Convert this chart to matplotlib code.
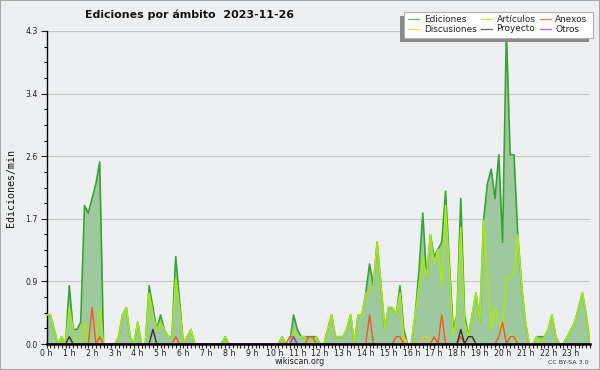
import numpy as np
import matplotlib
matplotlib.use('Agg')
import matplotlib.pyplot as plt
from matplotlib.patches import Rectangle
from matplotlib.lines import Line2D

# ---------------- data (edits per minute, 10-minute slots, 0h..23h50) ----------------
hour_labels = [f"{h} h" for h in range(24)]

ediciones = [
    0.4, 0.4, 0.2, 0.0, 0.1, 0.0,   0.8, 0.2, 0.2, 0.3, 1.9, 1.8,   # 0h, 1h
    2.0, 2.2, 2.5, 0.0, 0.0, 0.0,   0.0, 0.1, 0.4, 0.5, 0.1, 0.0,   # 2h, 3h
    0.3, 0.0, 0.0, 0.8, 0.5, 0.2,   0.4, 0.2, 0.1, 0.1, 1.2, 0.6,   # 4h, 5h
    0.0, 0.1, 0.2, 0.0, 0.0, 0.0,   0.0, 0.0, 0.0, 0.0, 0.0, 0.1,   # 6h, 7h
    0.0, 0.0, 0.0, 0.0, 0.0, 0.0,   0.0, 0.0, 0.0, 0.0, 0.0, 0.0,   # 8h, 9h
    0.0, 0.0, 0.1, 0.0, 0.0, 0.4,   0.2, 0.1, 0.1, 0.1, 0.1, 0.1,   # 10h, 11h
    0.0, 0.0, 0.2, 0.4, 0.1, 0.1,   0.1, 0.2, 0.4, 0.0, 0.4, 0.4,   # 12h, 13h
    0.7, 1.1, 0.8, 1.4, 0.8, 0.2,   0.5, 0.5, 0.4, 0.8, 0.2, 0.0,   # 14h, 15h
    0.0, 0.4, 1.0, 1.8, 0.9, 1.5,   1.2, 1.3, 1.4, 2.1, 1.1, 0.2,   # 16h, 17h
    0.4, 2.0, 0.4, 0.1, 0.4, 0.7,   0.3, 1.7, 2.2, 2.4, 2.0, 2.6,   # 18h, 19h
    1.4, 4.3, 2.6, 2.6, 1.5, 0.8,   0.3, 0.0, 0.0, 0.1, 0.1, 0.1,   # 20h, 21h
    0.2, 0.4, 0.1, 0.0, 0.0, 0.1,   0.2, 0.3, 0.5, 0.7, 0.4, 0.0,   # 22h, 23h
]

articulos = [
    0.4, 0.4, 0.2, 0.0, 0.1, 0.0,   0.5, 0.2, 0.0, 0.0, 0.3, 0.0,
    0.0, 0.0, 0.5, 0.0, 0.0, 0.0,   0.0, 0.1, 0.4, 0.5, 0.1, 0.0,
    0.3, 0.0, 0.0, 0.7, 0.4, 0.2,   0.3, 0.2, 0.1, 0.1, 0.9, 0.5,
    0.0, 0.1, 0.2, 0.0, 0.0, 0.0,   0.0, 0.0, 0.0, 0.0, 0.0, 0.1,
    0.0, 0.0, 0.0, 0.0, 0.0, 0.0,   0.0, 0.0, 0.0, 0.0, 0.0, 0.0,
    0.0, 0.0, 0.1, 0.0, 0.0, 0.2,   0.1, 0.1, 0.1, 0.0, 0.0, 0.1,
    0.0, 0.0, 0.2, 0.4, 0.1, 0.1,   0.1, 0.2, 0.4, 0.0, 0.4, 0.4,
    0.7, 0.7, 0.8, 1.4, 0.8, 0.2,   0.5, 0.5, 0.4, 0.7, 0.1, 0.0,
    0.0, 0.4, 0.8, 1.2, 0.9, 1.5,   1.1, 1.3, 0.8, 1.9, 1.0, 0.1,
    0.4, 1.6, 0.3, 0.1, 0.4, 0.7,   0.3, 1.7, 1.0, 0.2, 0.5, 0.3,
    0.2, 0.9, 0.9, 1.0, 1.5, 0.8,   0.3, 0.0, 0.0, 0.1, 0.0, 0.1,
    0.2, 0.4, 0.1, 0.0, 0.0, 0.1,   0.2, 0.3, 0.5, 0.7, 0.4, 0.0,
]

anexos = [
    0.0, 0.0, 0.0, 0.0, 0.0, 0.0,   0.0, 0.0, 0.0, 0.0, 0.0, 0.0,
    0.5, 0.0, 0.1, 0.0, 0.0, 0.0,   0.0, 0.0, 0.0, 0.0, 0.0, 0.0,
    0.0, 0.0, 0.0, 0.0, 0.0, 0.0,   0.0, 0.0, 0.0, 0.0, 0.1, 0.0,
    0.0, 0.0, 0.0, 0.0, 0.0, 0.0,   0.0, 0.0, 0.0, 0.0, 0.0, 0.0,
    0.0, 0.0, 0.0, 0.0, 0.0, 0.0,   0.0, 0.0, 0.0, 0.0, 0.0, 0.0,
    0.0, 0.0, 0.0, 0.0, 0.1, 0.1,   0.0, 0.0, 0.0, 0.1, 0.1, 0.0,
    0.0, 0.0, 0.0, 0.0, 0.0, 0.0,   0.0, 0.0, 0.0, 0.0, 0.0, 0.0,
    0.0, 0.4, 0.0, 0.0, 0.0, 0.0,   0.0, 0.0, 0.1, 0.1, 0.0, 0.0,
    0.0, 0.0, 0.0, 0.0, 0.0, 0.0,   0.1, 0.0, 0.4, 0.0, 0.0, 0.0,
    0.0, 0.1, 0.0, 0.0, 0.0, 0.0,   0.0, 0.0, 0.0, 0.0, 0.0, 0.1,
    0.3, 0.0, 0.1, 0.1, 0.0, 0.0,   0.0, 0.0, 0.0, 0.0, 0.0, 0.0,
    0.0, 0.0, 0.0, 0.0, 0.0, 0.0,   0.0, 0.0, 0.0, 0.0, 0.0, 0.0,
]

discusiones = [
    0.0, 0.0, 0.0, 0.0, 0.0, 0.0,   0.0, 0.0, 0.0, 0.0, 0.0, 0.0,
    0.0, 0.0, 0.0, 0.0, 0.0, 0.0,   0.0, 0.0, 0.0, 0.0, 0.0, 0.0,
    0.0, 0.0, 0.0, 0.0, 0.0, 0.0,   0.0, 0.0, 0.0, 0.0, 0.0, 0.0,
    0.0, 0.0, 0.0, 0.0, 0.0, 0.0,   0.0, 0.0, 0.0, 0.0, 0.0, 0.0,
    0.0, 0.0, 0.0, 0.0, 0.0, 0.0,   0.0, 0.0, 0.0, 0.0, 0.0, 0.0,
    0.0, 0.0, 0.0, 0.0, 0.0, 0.0,   0.0, 0.0, 0.0, 0.0, 0.0, 0.0,
    0.0, 0.0, 0.0, 0.0, 0.0, 0.0,   0.0, 0.0, 0.0, 0.0, 0.0, 0.0,
    0.0, 0.0, 0.0, 0.0, 0.0, 0.0,   0.0, 0.0, 0.0, 0.0, 0.1, 0.0,
    0.0, 0.0, 0.0, 0.1, 0.1, 0.0,   0.0, 0.0, 0.0, 0.0, 0.0, 0.0,
    0.0, 0.0, 0.0, 0.0, 0.0, 0.0,   0.0, 0.0, 0.0, 0.0, 0.0, 0.0,
    0.0, 0.0, 0.0, 0.0, 0.0, 0.0,   0.0, 0.0, 0.0, 0.0, 0.0, 0.0,
    0.0, 0.0, 0.0, 0.0, 0.0, 0.0,   0.0, 0.0, 0.0, 0.0, 0.0, 0.0,
]

proyecto = [
    0.0, 0.0, 0.0, 0.0, 0.0, 0.0,   0.1, 0.0, 0.0, 0.0, 0.0, 0.0,
    0.0, 0.0, 0.0, 0.0, 0.0, 0.0,   0.0, 0.0, 0.0, 0.0, 0.0, 0.0,
    0.0, 0.0, 0.0, 0.0, 0.2, 0.0,   0.0, 0.0, 0.0, 0.0, 0.0, 0.0,
    0.0, 0.0, 0.0, 0.0, 0.0, 0.0,   0.0, 0.0, 0.0, 0.0, 0.0, 0.0,
    0.0, 0.0, 0.0, 0.0, 0.0, 0.0,   0.0, 0.0, 0.0, 0.0, 0.0, 0.0,
    0.0, 0.0, 0.0, 0.0, 0.0, 0.0,   0.0, 0.0, 0.0, 0.0, 0.0, 0.0,
    0.0, 0.0, 0.0, 0.0, 0.0, 0.0,   0.0, 0.0, 0.0, 0.0, 0.0, 0.0,
    0.0, 0.0, 0.0, 0.0, 0.0, 0.0,   0.0, 0.0, 0.0, 0.0, 0.0, 0.0,
    0.0, 0.0, 0.0, 0.0, 0.0, 0.0,   0.0, 0.0, 0.0, 0.0, 0.0, 0.0,
    0.0, 0.2, 0.0, 0.1, 0.1, 0.0,   0.0, 0.0, 0.0, 0.0, 0.0, 0.0,
    0.0, 0.0, 0.0, 0.0, 0.0, 0.0,   0.0, 0.0, 0.0, 0.0, 0.0, 0.0,
    0.0, 0.0, 0.0, 0.0, 0.0, 0.0,   0.0, 0.0, 0.0, 0.0, 0.0, 0.0,
]

otros = [
    0.0, 0.0, 0.0, 0.0, 0.0, 0.0,   0.0, 0.0, 0.0, 0.0, 0.0, 0.0,
    0.0, 0.0, 0.0, 0.0, 0.0, 0.0,   0.0, 0.0, 0.0, 0.0, 0.0, 0.0,
    0.0, 0.0, 0.0, 0.0, 0.0, 0.0,   0.0, 0.0, 0.0, 0.0, 0.0, 0.0,
    0.0, 0.0, 0.0, 0.0, 0.0, 0.0,   0.0, 0.0, 0.0, 0.0, 0.0, 0.0,
    0.0, 0.0, 0.0, 0.0, 0.0, 0.0,   0.0, 0.0, 0.0, 0.0, 0.0, 0.0,
    0.0, 0.0, 0.0, 0.0, 0.0, 0.1,   0.0, 0.0, 0.0, 0.0, 0.0, 0.0,
    0.0, 0.0, 0.0, 0.0, 0.0, 0.0,   0.0, 0.0, 0.0, 0.0, 0.0, 0.0,
    0.0, 0.0, 0.0, 0.0, 0.0, 0.0,   0.0, 0.0, 0.0, 0.0, 0.0, 0.0,
    0.0, 0.0, 0.0, 0.0, 0.0, 0.0,   0.0, 0.0, 0.0, 0.0, 0.0, 0.0,
    0.0, 0.0, 0.0, 0.0, 0.0, 0.0,   0.0, 0.0, 0.0, 0.0, 0.0, 0.0,
    0.0, 0.0, 0.0, 0.0, 0.0, 0.0,   0.0, 0.0, 0.0, 0.0, 0.0, 0.0,
    0.0, 0.0, 0.0, 0.0, 0.0, 0.0,   0.0, 0.0, 0.0, 0.0, 0.0, 0.0,
]

y_max = 4.3
title = "Ediciones por ámbito  2023-11-26"
y_title = "Ediciones/min"

# ---------------- styling ----------------
W, H = 600, 370
BG = '#eeeff1'
C_EDI = '#37a337'
C_FILL = '#9ec89e'
C_ART = '#a8e616'
C_ANE = '#f05a1a'
C_DIS = '#f5c41c'
C_PRO = '#333333'
C_OTR = '#8a3cec'

fig = plt.figure(figsize=(W / 100, H / 100), dpi=100)
fig.patch.set_facecolor(BG)

def fx(px):
    return px / W

def fy(py):
    return 1 - py / H

x0, x1, ytop, ybot = 46.5, 590, 31, 344
ax = fig.add_axes([fx(x0), fy(ybot), fx(x1) - fx(x0), fy(ytop) - fy(ybot)])
ax.set_facecolor(BG)

x = np.arange(len(ediciones))
ax.set_xlim(0, len(ediciones) - 1)
ax.set_ylim(0, y_max)

ax.fill_between(x, ediciones, 0, color=C_FILL, lw=0, zorder=2)
ax.plot(x, ediciones, color=C_EDI, lw=1.2, zorder=3)
ax.plot(x, articulos, color=C_ART, lw=1.2, zorder=4)
ax.plot(x, discusiones, color=C_DIS, lw=1.0, zorder=5)
ax.plot(x, anexos, color=C_ANE, lw=1.0, zorder=5)
ax.plot(x, proyecto, color=C_PRO, lw=1.0, zorder=6)
ax.plot(x, otros, color=C_OTR, lw=1.0, zorder=6)

# y axis
major = np.linspace(0, y_max, 6)
ax.set_yticks(major)
ax.set_yticklabels([f"{v:.1f}" for v in major])
ax.set_yticks(np.linspace(0, y_max, 21), minor=True)
ax.tick_params(axis='y', which='major', direction='out', length=4, width=0.8,
               pad=2.5, labelsize=5.6, colors='#222222')
ax.tick_params(axis='y', which='minor', direction='out', length=2.5, width=0.8)
ax.yaxis.grid(True, which='major', color='#c8c8c8', lw=0.9, zorder=1)
ax.set_axisbelow(True)

# x axis
ax.set_xticks(np.arange(0, len(ediciones), 6))
ax.set_xticklabels(hour_labels)
ax.set_xticks(np.arange(len(ediciones)), minor=True)
ax.tick_params(axis='x', which='both', direction='out', length=2.8, width=0.8,
               pad=0.8, labelsize=5.6, colors='#222222')

for s in ['top', 'right']:
    ax.spines[s].set_visible(False)
ax.spines['left'].set_linewidth(1.0)
ax.spines['bottom'].set_linewidth(1.8)
ax.spines['bottom'].set_zorder(7)

fig.text(fx(11), fy(188), y_title, rotation=90, ha='center', va='center',
         family='DejaVu Sans Mono', fontsize=7.2, color='#111111')

fig.text(fx(85), fy(18.5), title, ha='left', va='baseline',
         family='DejaVu Sans', fontweight='bold', fontsize=7.9, color='#111111')

fig.text(fx(300), fy(361.5), "wikiscan.org", ha='center', va='center',
         fontsize=5.8, color='#222222')
fig.text(fx(589), fy(362), "CC BY-SA 3.0", ha='right', va='center',
         fontsize=4.6, color='#333333')

# legend (manual, pChart-like box with shadow)
lx0, ly0, lx1, ly1 = 404.3, 11.7, 593.3, 38.3
fig.patches.append(Rectangle((fx(lx0 - 4), fy(ly1 + 4)), fx(lx1 - lx0), fy(ly0) - fy(ly1),
                             transform=fig.transFigure, facecolor='#8a8a8a', edgecolor='none', zorder=10))
fig.patches.append(Rectangle((fx(lx0), fy(ly1)), fx(lx1 - lx0), fy(ly0) - fy(ly1),
                             transform=fig.transFigure, facecolor='white', edgecolor='#b0b0b0',
                             lw=0.8, zorder=11))
leg_items = [
    ("Ediciones", C_EDI, 407.5, 424, 19.3),
    ("Artículos", C_ART, 480.5, 496.5, 19.3),
    ("Anexos", C_ANE, 539.5, 555, 19.3),
    ("Discusiones", C_DIS, 407.5, 424, 29.3),
    ("Proyecto", C_PRO, 480.5, 496.5, 28.6),
    ("Otros", C_OTR, 539.5, 555, 29.3),
]
for name, col, sx, tx, yy in leg_items:
    fig.lines.append(Line2D([fx(sx), fx(sx + 11.5)], [fy(yy), fy(yy)], transform=fig.transFigure,
                            color=col, lw=0.9, alpha=0.75, zorder=12))
    fig.text(fx(tx), fy(yy), name, ha='left', va='center', fontsize=6.4,
             color='#222222', zorder=12)

# outer frame
fig.patches.append(Rectangle((0, 0), 1, 1, transform=fig.transFigure, facecolor='none',
                             edgecolor='#a8a8a8', lw=1.5, zorder=20))

fig.savefig('out.png', dpi=100, facecolor=BG)
